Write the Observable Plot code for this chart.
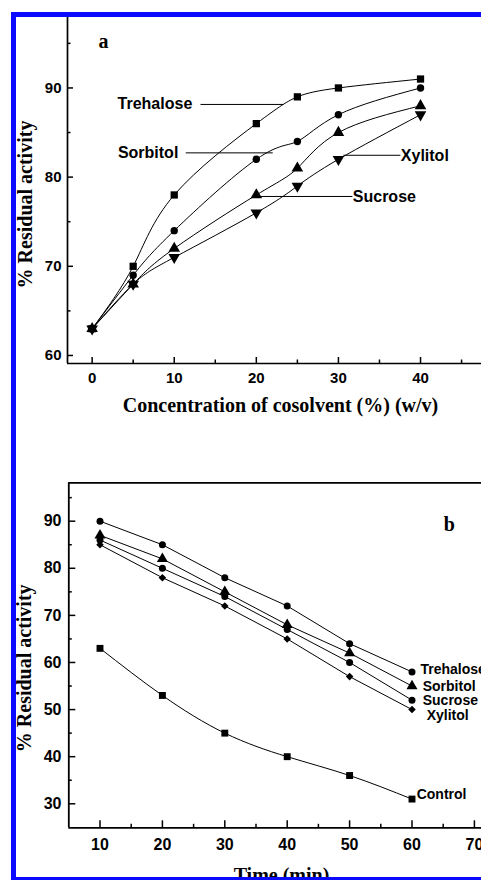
<!DOCTYPE html>
<html>
<head>
<meta charset="utf-8">
<script src="https://cdn.jsdelivr.net/npm/d3@7"></script>
<script src="https://cdn.jsdelivr.net/npm/@observablehq/plot@0.6"></script>
<style>
  html, body { margin: 0; padding: 0; background: #fff; width: 481px; height: 880px; overflow: hidden; }
  #wrap { position: relative; width: 481px; height: 880px; overflow: hidden; background: #fff; }
  #pa { position: absolute; left: 0; top: 0; }
  #pb { position: absolute; left: 0; top: 420px; }
  #border { position: absolute; left: 11px; top: 12px; width: 700px; height: 870px; box-sizing: border-box;
            border: 5px solid #0a0aff; pointer-events: none; z-index: 5; }
</style>
</head>
<body>
<div id="wrap">
  <div id="pa"></div>
  <div id="pb"></div>
  <div id="border"></div>
</div>
<script>
// ---------- Panel a data ----------
const concA = [0, 5, 10, 20, 25, 30, 40];
const trehaloseA = [63, 70, 78, 86, 89, 90, 91];
const sorbitolA  = [63, 69, 74, 82, 84, 87, 90];
const sucroseA   = [63, 68, 72, 78, 81, 85, 88];
const xylitolA   = [63, 68, 71, 76, 79, 82, 87];
const xTicksA = [0, 10, 20, 30, 40];
const xMinorA = [5, 15, 25, 35, 45];
const yTicksA = [60, 70, 80, 90];
const yMinorA = [65, 75, 85, 95];

// ---------- Panel b data ----------
const timeB = [10, 20, 30, 40, 50, 60];
const trehaloseB = [90, 85, 78, 72, 64, 58];
const sorbitolB  = [87, 82, 75, 68, 62, 55];
const sucroseB   = [86, 80, 74, 67, 60, 52];
const xylitolB   = [85, 78, 72, 65, 57, 50];
const controlB   = [63, 53, 45, 40, 36, 31];
const xTicksB = [10, 20, 30, 40, 50, 60, 70];
const xMinorB = [15, 25, 35, 45, 55, 65, 75];
const yTicksB = [30, 40, 50, 60, 70, 80, 90];
const yMinorB = [35, 45, 55, 65, 75, 85, 95];

const sans = "'Liberation Sans', Arial, Helvetica, sans-serif";
const serif = "'Liberation Serif', 'Times New Roman', Times, serif";

function rows(xs, series) {
  return series.flatMap(([name, vals]) => vals.map((v, i) => ({series: name, x: xs[i], y: v})));
}

// ================= Panel a =================
const dataA = rows(concA, [["Trehalose", trehaloseA], ["Sorbitol", sorbitolA], ["Sucrose", sucroseA], ["Xylitol", xylitolA]]);
const xDomA = [-3, 48], yDomA = [59.1, 97.9];
const pick = (d, s) => d.filter(r => r.series === s);

const leadersA = [
  {x1: 13.2, x2: 23.3, y: 88.15},
  {x1: 11.4, x2: 22.0, y: 82.72},
  {x1: 30.6, x2: 37.55, y: 82.45},
  {x1: 20.1, x2: 31.7, y: 77.83}
];
const labelsEndA = [
  {t: "Trehalose", x: 12.2, y: 88.25},
  {t: "Sorbitol", x: 10.5, y: 82.72}
];
const labelsStartA = [
  {t: "Xylitol", x: 37.6, y: 82.34},
  {t: "Sucrose", x: 31.75, y: 77.75}
];

const axisCommon = {stroke: "black", strokeWidth: 1.5, fill: "black", fontFamily: sans, fontWeight: "bold", label: null};
const labA = {x: "x", y: "y", text: "t", fontFamily: sans, fontWeight: "bold", fontSize: 16, fill: "black"};

const plotA = Plot.plot({
  width: 520, height: 420,
  marginTop: 17, marginBottom: 57, marginLeft: 67, marginRight: 34.3,
  x: {domain: xDomA},
  y: {domain: yDomA},
  style: {background: "transparent", maxWidth: "none", overflow: "visible", fontFamily: sans},
  marks: [
    Plot.axisX({...axisCommon, ticks: xTicksA, tickSize: -6, tickPadding: 15, fontSize: 15, tickFormat: d => String(d)}),
    Plot.axisX({...axisCommon, ticks: xMinorA, tickSize: -3.5, tickFormat: () => ""}),
    Plot.axisY({...axisCommon, ticks: yTicksA, tickSize: -6, tickPadding: 12, fontSize: 15, tickFormat: d => String(d)}),
    Plot.axisY({...axisCommon, ticks: yMinorA, tickSize: -3.5, tickFormat: () => ""}),
    Plot.ruleX([xDomA[0]], {stroke: "black", strokeWidth: 1.7}),
    Plot.ruleY([yDomA[0]], {stroke: "black", strokeWidth: 1.7}),
    Plot.line(dataA, {x: "x", y: "y", z: "series", curve: "natural", stroke: "black", strokeWidth: 1}),
    Plot.dot(pick(dataA, "Trehalose"), {x: "x", y: "y", symbol: "square", r: 4.1, fill: "black"}),
    Plot.dot(pick(dataA, "Sorbitol"), {x: "x", y: "y", symbol: "circle", r: 3.7, fill: "black"}),
    Plot.dot(pick(dataA, "Sucrose"), {x: "x", y: "y", symbol: "triangle", r: 4.3, fill: "black"}),
    Plot.dot(pick(dataA, "Xylitol"), {x: "x", y: "y", symbol: "triangle", rotate: 180, r: 4.3, fill: "black"}),
    Plot.link(leadersA, {x1: "x1", x2: "x2", y1: "y", y2: "y", stroke: "black", strokeWidth: 1}),
    Plot.text(labelsEndA, {...labA, textAnchor: "end"}),
    Plot.text(labelsStartA, {...labA, textAnchor: "start"}),
    Plot.text(["a"], {text: d => d, frameAnchor: "top-left", dx: 31, dy: 30.7, textAnchor: "start", lineAnchor: "bottom",
      fontFamily: serif, fontWeight: "bold", fontSize: 20, fill: "black"}),
    Plot.text(["% Residual activity"], {text: d => d, frameAnchor: "left", rotate: -90, dx: -41.5, dy: 14,
      textAnchor: "middle", lineAnchor: "middle", fontFamily: serif, fontWeight: "bold", fontSize: 20, fill: "black"}),
    Plot.text(["Concentration of cosolvent (%) (w/v)"], {text: d => d, frameAnchor: "bottom", dx: 3.6, dy: 48,
      textAnchor: "middle", lineAnchor: "bottom", fontFamily: serif, fontWeight: "bold", fontSize: 20, fill: "black"})
  ]
});
document.getElementById("pa").appendChild(plotA);

// ================= Panel b =================
const dataB = rows(timeB, [["Trehalose", trehaloseB], ["Sorbitol", sorbitolB], ["Sucrose", sucroseB], ["Xylitol", xylitolB], ["Control", controlB]]);
const xDomB = [5, 75], yDomB = [24.9, 98.15];
const lastOf = s => pick(dataB, s).slice(-1);
const labB = {x: "x", y: "y", text: "series", textAnchor: "start", fontFamily: sans, fontWeight: "bold", fontSize: 14, fill: "black"};

const plotB = Plot.plot({
  width: 540, height: 480,
  marginTop: 62.3, marginBottom: 72.7, marginLeft: 68.3, marginRight: 34.9,
  x: {domain: xDomB},
  y: {domain: yDomB},
  style: {background: "transparent", maxWidth: "none", overflow: "visible", fontFamily: sans},
  marks: [
    Plot.axisX({...axisCommon, ticks: xTicksB, tickSize: -7, tickPadding: 18, fontSize: 16, tickFormat: d => String(d)}),
    Plot.axisX({...axisCommon, ticks: xMinorB, tickSize: -3.5, tickFormat: () => ""}),
    Plot.axisY({...axisCommon, ticks: yTicksB, tickSize: -7, tickPadding: 14.3, fontSize: 16, tickFormat: d => String(d)}),
    Plot.axisY({...axisCommon, ticks: yMinorB, tickSize: -3.5, tickFormat: () => ""}),
    Plot.ruleX([xDomB[0]], {stroke: "black", strokeWidth: 1.8}),
    Plot.ruleY([yDomB[0]], {stroke: "black", strokeWidth: 1.8}),
    Plot.ruleY([yDomB[1]], {stroke: "black", strokeWidth: 1.8}),
    Plot.line(dataB.filter(r => r.series !== "Control"), {x: "x", y: "y", z: "series", stroke: "black", strokeWidth: 1}),
    Plot.line(pick(dataB, "Control"), {x: "x", y: "y", curve: "natural", stroke: "black", strokeWidth: 1}),
    Plot.dot(pick(dataB, "Trehalose"), {x: "x", y: "y", symbol: "circle", r: 3.5, fill: "black"}),
    Plot.dot(pick(dataB, "Sorbitol"), {x: "x", y: "y", symbol: "triangle", r: 4.1, fill: "black"}),
    Plot.dot(pick(dataB, "Sucrose"), {x: "x", y: "y", symbol: "circle", r: 3.5, fill: "black"}),
    Plot.dot(pick(dataB, "Xylitol"), {x: "x", y: "y", symbol: "diamond2", r: 3.4, fill: "black"}),
    Plot.dot(pick(dataB, "Control"), {x: "x", y: "y", symbol: "square", r: 3.9, fill: "black"}),
    Plot.text(lastOf("Trehalose"), {...labB, dx: 8.4, dy: -2.6}),
    Plot.text(lastOf("Sorbitol"), {...labB, dx: 10.7, dy: 0}),
    Plot.text(lastOf("Sucrose"), {...labB, dx: 10.7, dy: 0.8}),
    Plot.text(lastOf("Xylitol"), {...labB, dx: 14.7, dy: 5.7}),
    Plot.text(lastOf("Control"), {...labB, dx: 4.7, dy: -4.7}),
    Plot.text(["b"], {text: d => d, frameAnchor: "top-left", dx: 375, dy: 48.4, textAnchor: "start", lineAnchor: "bottom",
      fontFamily: serif, fontWeight: "bold", fontSize: 20, fill: "black"}),
    Plot.text(["% Residual activity"], {text: d => d, frameAnchor: "left", rotate: -90, dx: -44, dy: 13,
      textAnchor: "middle", lineAnchor: "middle", fontFamily: serif, fontWeight: "bold", fontSize: 20, fill: "black"}),
    Plot.text(["Time (min)"], {text: d => d, frameAnchor: "bottom", dx: -5.7, dy: 54.2,
      textAnchor: "middle", lineAnchor: "bottom", fontFamily: serif, fontWeight: "bold", fontSize: 20, fill: "black"})
  ]
});
document.getElementById("pb").appendChild(plotB);
</script>
</body>
</html>
